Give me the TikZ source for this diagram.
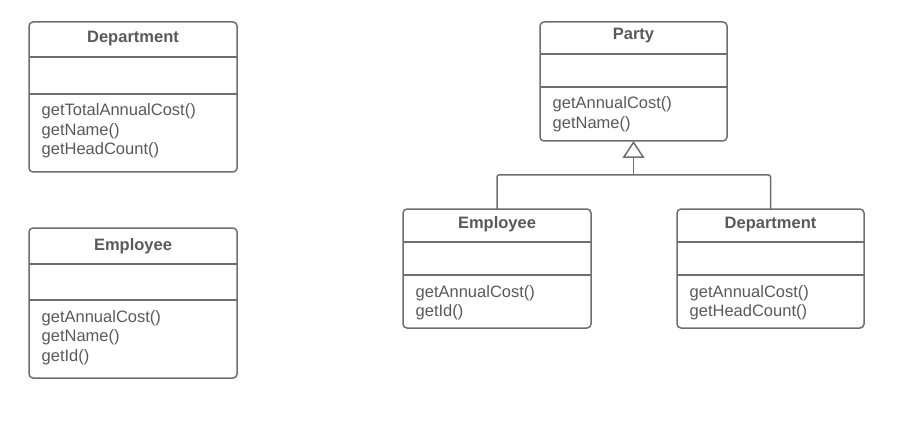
\documentclass[tikz,border=0pt]{standalone}
\usepackage{fontspec}
\setmainfont{Liberation Sans}
\usepackage{xcolor}
\usetikzlibrary{arrows.meta,calc,positioning}

\definecolor{umlline}{HTML}{6E6E6E}
\definecolor{umltext}{HTML}{595959}

% one class: name, position, width, height, header height, empty-part bottom, title, operations
\newcommand{\umlclass}[8]{%
  \node[classbox, minimum width=#3, minimum height=#4] (#1) at #2 {};
  \draw[classline] ($(#1.north west)+(0,-#5)$) -- ($(#1.north east)+(0,-#5)$);
  \draw[classline] ($(#1.north west)+(0,-#6)$) -- ($(#1.north east)+(0,-#6)$);
  \node[classtitle] (#1-title) at ($(#1.north)+(0,-#5+14)$) {#7};
  \foreach \op [count=\i from 0] in {#8}
    \node[classop] (#1-op\i) at ($(#1.north west)+(12.5,-#6-22-19.5*\i)$) {\op};
}

\begin{document}
\begin{tikzpicture}[
      x=1pt, y=1pt,
      classbox/.style={draw=umlline, line width=1.5pt, rounded corners=4pt,
        anchor=north west, inner sep=0pt, outer sep=0pt},
      classline/.style={draw=umlline, line width=1.5pt},
      classtitle/.style={anchor=base, inner sep=0pt, text=umltext,
        font=\fontsize{16.5}{19.5}\selectfont\bfseries},
      classop/.style={anchor=base west, inner sep=0pt, text=umltext,
        font=\fontsize{16.5}{19.5}\selectfont},
      inherit/.style={draw=umlline, line width=1.5pt, rounded corners=2pt}
    ]
    \useasboundingbox (0,0) rectangle (900,-425);

    % before: two separate classes
    \umlclass{deptOld}{(29,-22)}{208}{150}{35}{72}{Department}
      {getTotalAnnualCost(), getName(), getHeadCount()}
    \umlclass{empOld}{(29,-228)}{208}{150}{36}{72}{Employee}
      {getAnnualCost(), getName(), getId()}

    % after: common superclass
    \umlclass{party}{(540,-22)}{187}{119}{32}{65}{Party}
      {getAnnualCost(), getName()}
    \umlclass{empNew}{(403,-209)}{188}{119}{33}{66}{Employee}
      {getAnnualCost(), getId()}
    \umlclass{deptNew}{(677,-209)}{187}{119}{33}{66}{Department}
      {getAnnualCost(), getHeadCount()}

    \coordinate (joint) at ($(party.south)+(0,-34)$);
    \draw[inherit] (empNew.north) |- (joint) -| (deptNew.north);
    \draw[inherit, rounded corners=0pt,
      -{Triangle[open, length=17pt, width=22pt, line width=1.5pt]}]
      (joint) -- (party.south);
  \end{tikzpicture}
\end{document}
